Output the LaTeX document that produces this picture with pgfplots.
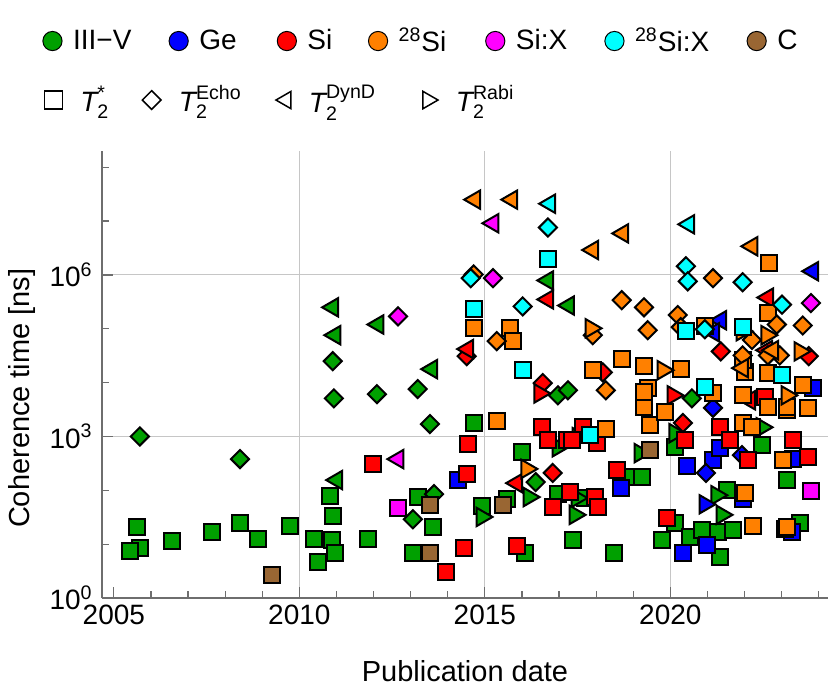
\documentclass[border=0pt]{standalone}
\usepackage{pgfplots}
\pgfplotsset{compat=1.18}
\usepackage{amsmath}
\usepackage{fontspec}
\setmainfont{Liberation Sans}
\setsansfont{Liberation Sans}
\definecolor{cIII}{RGB}{0,160,0}
\definecolor{cGe}{RGB}{0,0,255}
\definecolor{cSi}{RGB}{255,0,0}
\definecolor{cSiA}{RGB}{255,128,0}
\definecolor{cSiX}{RGB}{255,0,255}
\definecolor{cSiXA}{RGB}{0,255,255}
\definecolor{cC}{RGB}{153,102,51}
\definecolor{axc}{RGB}{110,110,110}
\pgfplotsset{
  SQ/.style={only marks, mark=square*, mark size=4pt, mark options={draw=black, fill=#1, line width=1pt, solid}},
  DI/.style={only marks, mark=square*, mark size=3.2pt, mark options={draw=black, fill=#1, line width=1pt, solid, rotate=45}},
  LT/.style={only marks, mark=triangle*, mark size=5.3pt, mark options={draw=black, fill=#1, line width=1pt, solid, rotate=90}},
  RT/.style={only marks, mark=triangle*, mark size=5.3pt, mark options={draw=black, fill=#1, line width=1pt, solid, rotate=-90}},
  legax/.style={hide axis, scale only axis, width=363pt, height=223.5pt, at={(0,0)}, anchor=south west,
    xmin=0, xmax=1, ymin=0, ymax=1,
    legend image code/.code={\draw[##1] plot coordinates {(0pt,0pt)};},
    legend style={draw=none, fill=none, inner sep=0pt, column sep=0pt,
      nodes={inner sep=0pt}, cells={anchor=west},
      font=\fontsize{14}{16}\selectfont}},
}
\begin{document}
\begin{tikzpicture}
\useasboundingbox (-51pt,-47.5pt) rectangle (364pt,299pt);
\begin{axis}[
  scale only axis, width=363pt, height=223.5pt, at={(0,0)}, anchor=south west,
  xmin=2004.68, xmax=2024.25,
  ymode=log, ymin=1, ymax=2e8,
  axis x line*=bottom, axis y line*=left,
  axis line style={axc, line width=0.6pt},
  tick style={axc, line width=0.6pt},
  tick align=inside,
  xtick={2005,2010,2015,2020}, xticklabels={2005,2010,2015,2020},
  minor xtick={2006,2007,2008,2009,2011,2012,2013,2014,2016,2017,2018,2019,2021,2022,2023,2024},
  extra x ticks={2010,2015,2020}, extra x tick labels={},
  extra x tick style={grid=major},
  ytick={1,1000,1000000},
  yticklabels={10\textsuperscript{0},10\textsuperscript{3},10\textsuperscript{6}},
  minor ytick={10,100,10000,100000,10000000,100000000},
  ymajorgrids=true,
  grid style={gray!45, line width=0.5pt},
  major tick length=5.5pt, minor tick length=3.5pt,
  ticklabel style={font=\fontsize{14}{16}\selectfont},
  xticklabel style={inner sep=0pt, yshift=-3.5pt},
  yticklabel style={inner sep=0pt, xshift=-4.5pt},
  xlabel={Publication date},
  xlabel style={font=\fontsize{14.5}{17}\selectfont, at={(axis description cs:0.5,-0.139)}, anchor=north, inner sep=0pt},
  ylabel={Coherence time [ns]},
  ylabel style={font=\fontsize{14.5}{17}\selectfont, at={(axis description cs:-0.110,0.447)}, anchor=center, inner sep=0pt},
  clip=false,
]
% ---------- III-V (green)
\addplot[SQ=cIII] coordinates {
(2005.62,21) (2005.70,8.5) (2005.43,7.4) (2006.56,11.4) (2007.64,17) (2008.40,25) (2008.88,12.4)
(2009.74,22) (2010.39,12.4) (2010.50,4.7) (2010.82,78) (2010.90,33) (2010.88,12) (2010.96,6.8)
(2011.85,12.4) (2013.19,75) (2013.60,21) (2013.06,6.8) (2014.70,1780) (2014.92,51) (2015.59,69)
(2016.00,510) (2016.08,6.8) (2016.97,85) (2017.37,12) (2017.70,72) (2018.85,175) (2019.23,175)
(2018.48,6.8) (2020.12,630) (2020.12,25) (2019.77,12) (2020.53,13.5) (2020.85,18) (2021.28,17)
(2021.33,5.8) (2021.52,100) (2021.68,18) (2022.47,690) (2023.14,155) (2023.49,25)};
\addplot[DI=cIII] coordinates {
(2005.70,1000) (2008.40,380) (2010.93,5100) (2010.90,25000) (2012.09,6100) (2013.19,7600)
(2013.52,1700) (2013.63,85) (2013.06,29) (2016.37,142) (2016.97,5800) (2017.24,7200) (2020.58,5100)};
\addplot[LT=cIII] coordinates {
(2010.90,250000) (2010.96,76000) (2011.01,155) (2012.12,120000) (2013.57,17800) (2016.70,790000) (2017.26,270000)};
\addplot[RT=cIII] coordinates {
(2014.92,32) (2016.19,75) (2016.97,630) (2017.51,970) (2017.48,72) (2017.43,35) (2019.18,490)
(2020.12,1150) (2021.25,81) (2021.39,35) (2022.47,1480)};
% ---------- C (brown)
\addplot[SQ=cC] coordinates {(2009.26,2.7) (2013.52,6.8) (2013.52,53) (2015.49,53) (2019.45,560)};
% ---------- Ge (blue)
\addplot[SQ=cGe] coordinates {
(2014.27,155) (2018.67,110) (2020.34,6.8) (2020.98,9.6) (2020.44,280) (2021.15,360) (2021.33,600)
(2021.95,69) (2023.30,380) (2023.27,17) (2023.84,7900)};
\addplot[DI=cGe] coordinates {(2021.15,3400) (2021.93,450) (2020.96,210)};
\addplot[LT=cGe] coordinates {(2023.84,1170000) (2021.36,144000) (2021.17,86000)};
\addplot[RT=cGe] coordinates {(2020.93,55)};
% ---------- Si (red)
\addplot[SQ=cSi] coordinates {
(2011.98,310) (2014.54,720) (2014.51,200) (2013.95,3.0) (2014.43,8.5) (2015.86,9.2) (2016.54,1480)
(2016.70,850) (2017.21,850) (2017.64,1480) (2018.02,750) (2017.34,850) (2017.29,93) (2017.96,75)
(2018.05,49) (2016.83,49) (2018.56,235) (2019.91,30) (2021.33,1480) (2021.60,850) (2020.39,850)
(2022.09,360) (2022.55,5400) (2023.30,850) (2023.71,410) (2023.09,19)};
\addplot[DI=cSi] coordinates {
(2014.51,31000) (2016.56,9800) (2016.83,210) (2020.34,1780) (2021.36,38000) (2023.73,31000) (2018.18,15500)};
\addplot[LT=cSi] coordinates {
(2014.54,42000) (2016.70,350000) (2022.63,380000) (2022.60,40000) (2022.14,4700) (2015.86,136)};
\addplot[RT=cSi] coordinates {(2016.48,6300) (2020.07,5800)};
% ---------- 28Si (orange)
\addplot[SQ=cSiA] coordinates {
(2014.70,102000) (2015.67,102000) (2015.75,59000) (2015.32,1900) (2017.91,17000) (2018.69,28000)
(2019.29,20000) (2020.28,17800) (2022.63,15000) (2022.65,1700000) (2022.63,200000) (2020.93,112000)
(2019.39,7900) (2019.29,3500) (2019.45,1620) (2019.85,2800) (2018.26,1380) (2021.15,6300)
(2021.95,1780) (2022.20,1480) (2023.14,3100) (2023.71,3400) (2022.01,15500) (2023.57,8900)
(2021.95,5800) (2022.63,3500) (2023.14,3500) (2023.03,360) (2022.01,89) (2022.22,22) (2023.14,21)
(2021.95,26000) (2019.29,6700)};
\addplot[DI=cSiA] coordinates {
(2014.70,1020000) (2015.32,59000) (2018.69,340000) (2019.29,250000) (2019.39,94000) (2020.20,180000)
(2020.28,107000) (2021.15,870000) (2022.87,120000) (2023.57,115000) (2022.20,62000) (2022.95,32000)
(2022.63,32000) (2017.91,76000) (2018.26,7200) (2021.95,32000)};
\addplot[LT=cSiA] coordinates {
(2014.73,25000000) (2015.73,25000000) (2017.91,2900000) (2018.72,5900000) (2022.20,3400000)
(2022.76,40000) (2021.95,18600)};
\addplot[RT=cSiA] coordinates {
(2016.13,250) (2017.86,102000) (2019.80,17000) (2021.93,90000) (2022.60,76000) (2023.49,38000) (2023.14,5800)};
% ---------- Si:X (magenta)
\addplot[SQ=cSiX] coordinates {(2012.66,47) (2023.79,97)};
\addplot[DI=cSiX] coordinates {(2012.66,170000) (2015.22,870000) (2023.79,300000)};
\addplot[LT=cSiX] coordinates {(2015.22,9100000) (2012.66,380)};
% ---------- 28Si:X (cyan)
\addplot[SQ=cSiXA] coordinates {
(2016.70,2000000) (2014.70,230000) (2016.02,17000) (2017.83,1050) (2020.42,90000) (2021.95,107000)
(2023.01,13800) (2020.93,8200)};
\addplot[DI=cSiXA] coordinates {
(2016.70,7600000) (2014.62,870000) (2016.02,260000) (2020.42,1450000) (2020.47,760000)
(2021.95,730000) (2023.01,280000) (2020.93,98000)};
\addplot[LT=cSiXA] coordinates {(2016.75,21000000) (2020.50,8700000)};
\end{axis}
% ---------- legend row 1
\begin{axis}[legax,
  legend columns=7,
  legend style={at={(-0.082,1.246)}, anchor=west}]
\addlegendimage{only marks, mark=*, mark size=4.8pt, mark options={draw=black, fill=cIII, line width=0.5pt}}
\addlegendentry{\hspace{5.5pt}\makebox[48pt][l]{III−V}}
\addlegendimage{only marks, mark=*, mark size=4.8pt, mark options={draw=black, fill=cGe, line width=0.5pt}}
\addlegendentry{\hspace{5.5pt}\makebox[39pt][l]{Ge}}
\addlegendimage{only marks, mark=*, mark size=4.8pt, mark options={draw=black, fill=cSi, line width=0.5pt}}
\addlegendentry{\hspace{5.5pt}\makebox[30.5pt][l]{Si}}
\addlegendimage{only marks, mark=*, mark size=4.8pt, mark options={draw=black, fill=cSiA, line width=0.5pt}}
\addlegendentry{\hspace{5.5pt}\makebox[43.5pt][l]{\textsuperscript{28}Si}}
\addlegendimage{only marks, mark=*, mark size=4.8pt, mark options={draw=black, fill=cSiX, line width=0.5pt}}
\addlegendentry{\hspace{5.5pt}\makebox[44.5pt][l]{Si:X}}
\addlegendimage{only marks, mark=*, mark size=4.8pt, mark options={draw=black, fill=cSiXA, line width=0.5pt}}
\addlegendentry{\hspace{5.5pt}\makebox[56pt][l]{\textsuperscript{28}Si:X}}
\addlegendimage{only marks, mark=*, mark size=4.8pt, mark options={draw=black, fill=cC, line width=0.5pt}}
\addlegendentry{\hspace{5.5pt}C}
\end{axis}
% ---------- legend row 2
\begin{axis}[legax,
  legend columns=4,
  legend style={at={(-0.080,1.114)}, anchor=west}]
\addlegendimage{only marks, mark=square, mark size=4.5pt, mark options={draw=black, line width=0.75pt}}
\addlegendentry{\hspace{9pt}\makebox[31pt][l]{$\textit{T}_{\text{2}}^{\text{*}}$}}
\addlegendimage{only marks, mark=square, mark size=3.3pt, mark options={draw=black, line width=0.75pt, rotate=45}}
\addlegendentry{\hspace{9pt}\makebox[48.5pt][l]{$\textit{T}_{\text{2}}^{\text{Echo}}$}}
\addlegendimage{only marks, mark=triangle, mark size=5pt, mark options={draw=black, line width=0.75pt, rotate=90}}
\addlegendentry{\hspace{9pt}\makebox[57pt][l]{$\textit{T}_{\text{2}}^{\text{DynD}}$}}
\addlegendimage{only marks, mark=triangle, mark size=5pt, mark options={draw=black, line width=0.75pt, rotate=-90}}
\addlegendentry{\hspace{9pt}$\textit{T}_{\text{2}}^{\text{Rabi}}$}
\end{axis}
\end{tikzpicture}
\end{document}
